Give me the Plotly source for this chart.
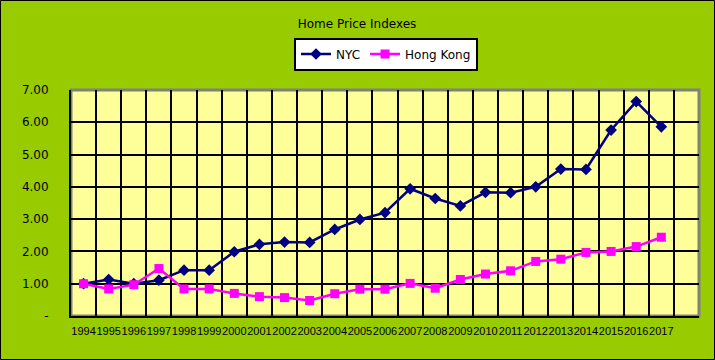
import plotly.graph_objects as go

years = [str(y) for y in range(1994, 2018)]
nyc = [1.00, 1.13, 1.00, 1.11, 1.42, 1.42, 1.99, 2.22, 2.29, 2.28, 2.68, 2.99,
       3.20, 3.94, 3.64, 3.41, 3.83, 3.82, 4.00, 4.55, 4.54, 5.76, 6.64, 5.86]
hong_kong = [1.00, 0.84, 0.97, 1.47, 0.84, 0.84, 0.70, 0.60, 0.57, 0.48, 0.69, 0.83,
             0.83, 1.01, 0.86, 1.13, 1.30, 1.40, 1.69, 1.76, 1.97, 2.00, 2.15, 2.44]
y_ticks = [0, 1, 2, 3, 4, 5, 6, 7]
y_tick_text = ["-", "1.00", "2.00", "3.00", "4.00", "5.00", "6.00", "7.00"]

W, H = 715, 360
ML, MR, MT, MB = 71, 16, 90, 44
FONT = "DejaVu Sans"

xi = list(range(len(years)))

fig = go.Figure()
fig.add_trace(go.Scatter(
    x=xi, y=nyc, name="NYC", mode="lines+markers",
    line=dict(color="#000080", width=2.5),
    marker=dict(symbol="diamond", size=9, color="#000080"),
))
fig.add_trace(go.Scatter(
    x=xi, y=hong_kong, name="Hong Kong", mode="lines+markers",
    line=dict(color="#FF00FF", width=2.5),
    marker=dict(symbol="square", size=9, color="#FF00FF"),
))

pw = W - ML - MR
ph = H - MT - MB

fig.update_layout(
    width=W, height=H,
    margin=dict(l=ML, r=MR, t=MT, b=MB, autoexpand=False),
    paper_bgcolor="#99CC00",
    plot_bgcolor="#FFFF99",
    font=dict(family=FONT, size=12, color="black"),
    title=dict(text="Home Price Indexes", x=(357 - ML) / pw, xref="paper",
               xanchor="center", y=1 - 24 / H, yref="container", yanchor="middle",
               font=dict(family=FONT, size=12, color="black")),
    showlegend=True,
    legend=dict(orientation="h", x=(386 - ML) / pw, xanchor="center",
                y=1 + (MT - 54) / ph, yanchor="middle",
                bgcolor="white", bordercolor="black", borderwidth=2,
                font=dict(family=FONT, size=12, color="black"),
                itemwidth=30, tracegroupgap=0),
    xaxis=dict(
        range=[-0.5, len(years) + 0.5], tickmode="array", tickvals=xi, ticktext=years,
        showgrid=False, zeroline=False, showline=True, linecolor="black", linewidth=2,
        ticks="", tickangle=0, automargin=False, ticklabelstandoff=4,
        tickfont=dict(family="Liberation Sans", size=11, color="black"),
        minor=dict(showgrid=True, gridcolor="black", gridwidth=1.5, tick0=-0.5, dtick=1),
        fixedrange=True,
    ),
    yaxis=dict(
        range=[0, 7], tickmode="array", tickvals=y_ticks, ticktext=y_tick_text,
        showgrid=True, gridcolor="black", gridwidth=1.5, zeroline=False,
        showline=True, linecolor="black", linewidth=2, ticks="", automargin=False,
        ticklabelstandoff=18, tickfont=dict(family=FONT, size=12, color="black"),
        fixedrange=True,
    ),
    shapes=[
        dict(type="rect", xref="paper", yref="paper", x0=0, x1=1, y0=0, y1=1,
             line=dict(color="#808080", width=3), layer="below"),
        dict(type="rect", xref="paper", yref="paper",
             x0=-ML / pw + 0.5 / pw, x1=1 + MR / pw - 0.5 / pw,
             y0=-MB / ph + 0.5 / ph, y1=1 + MT / ph - 0.5 / ph,
             line=dict(color="black", width=1), layer="above"),
    ],
)

fig.write_html("out.html", config={"displayModeBar": False},
               post_script="document.body.style.margin='0';")
